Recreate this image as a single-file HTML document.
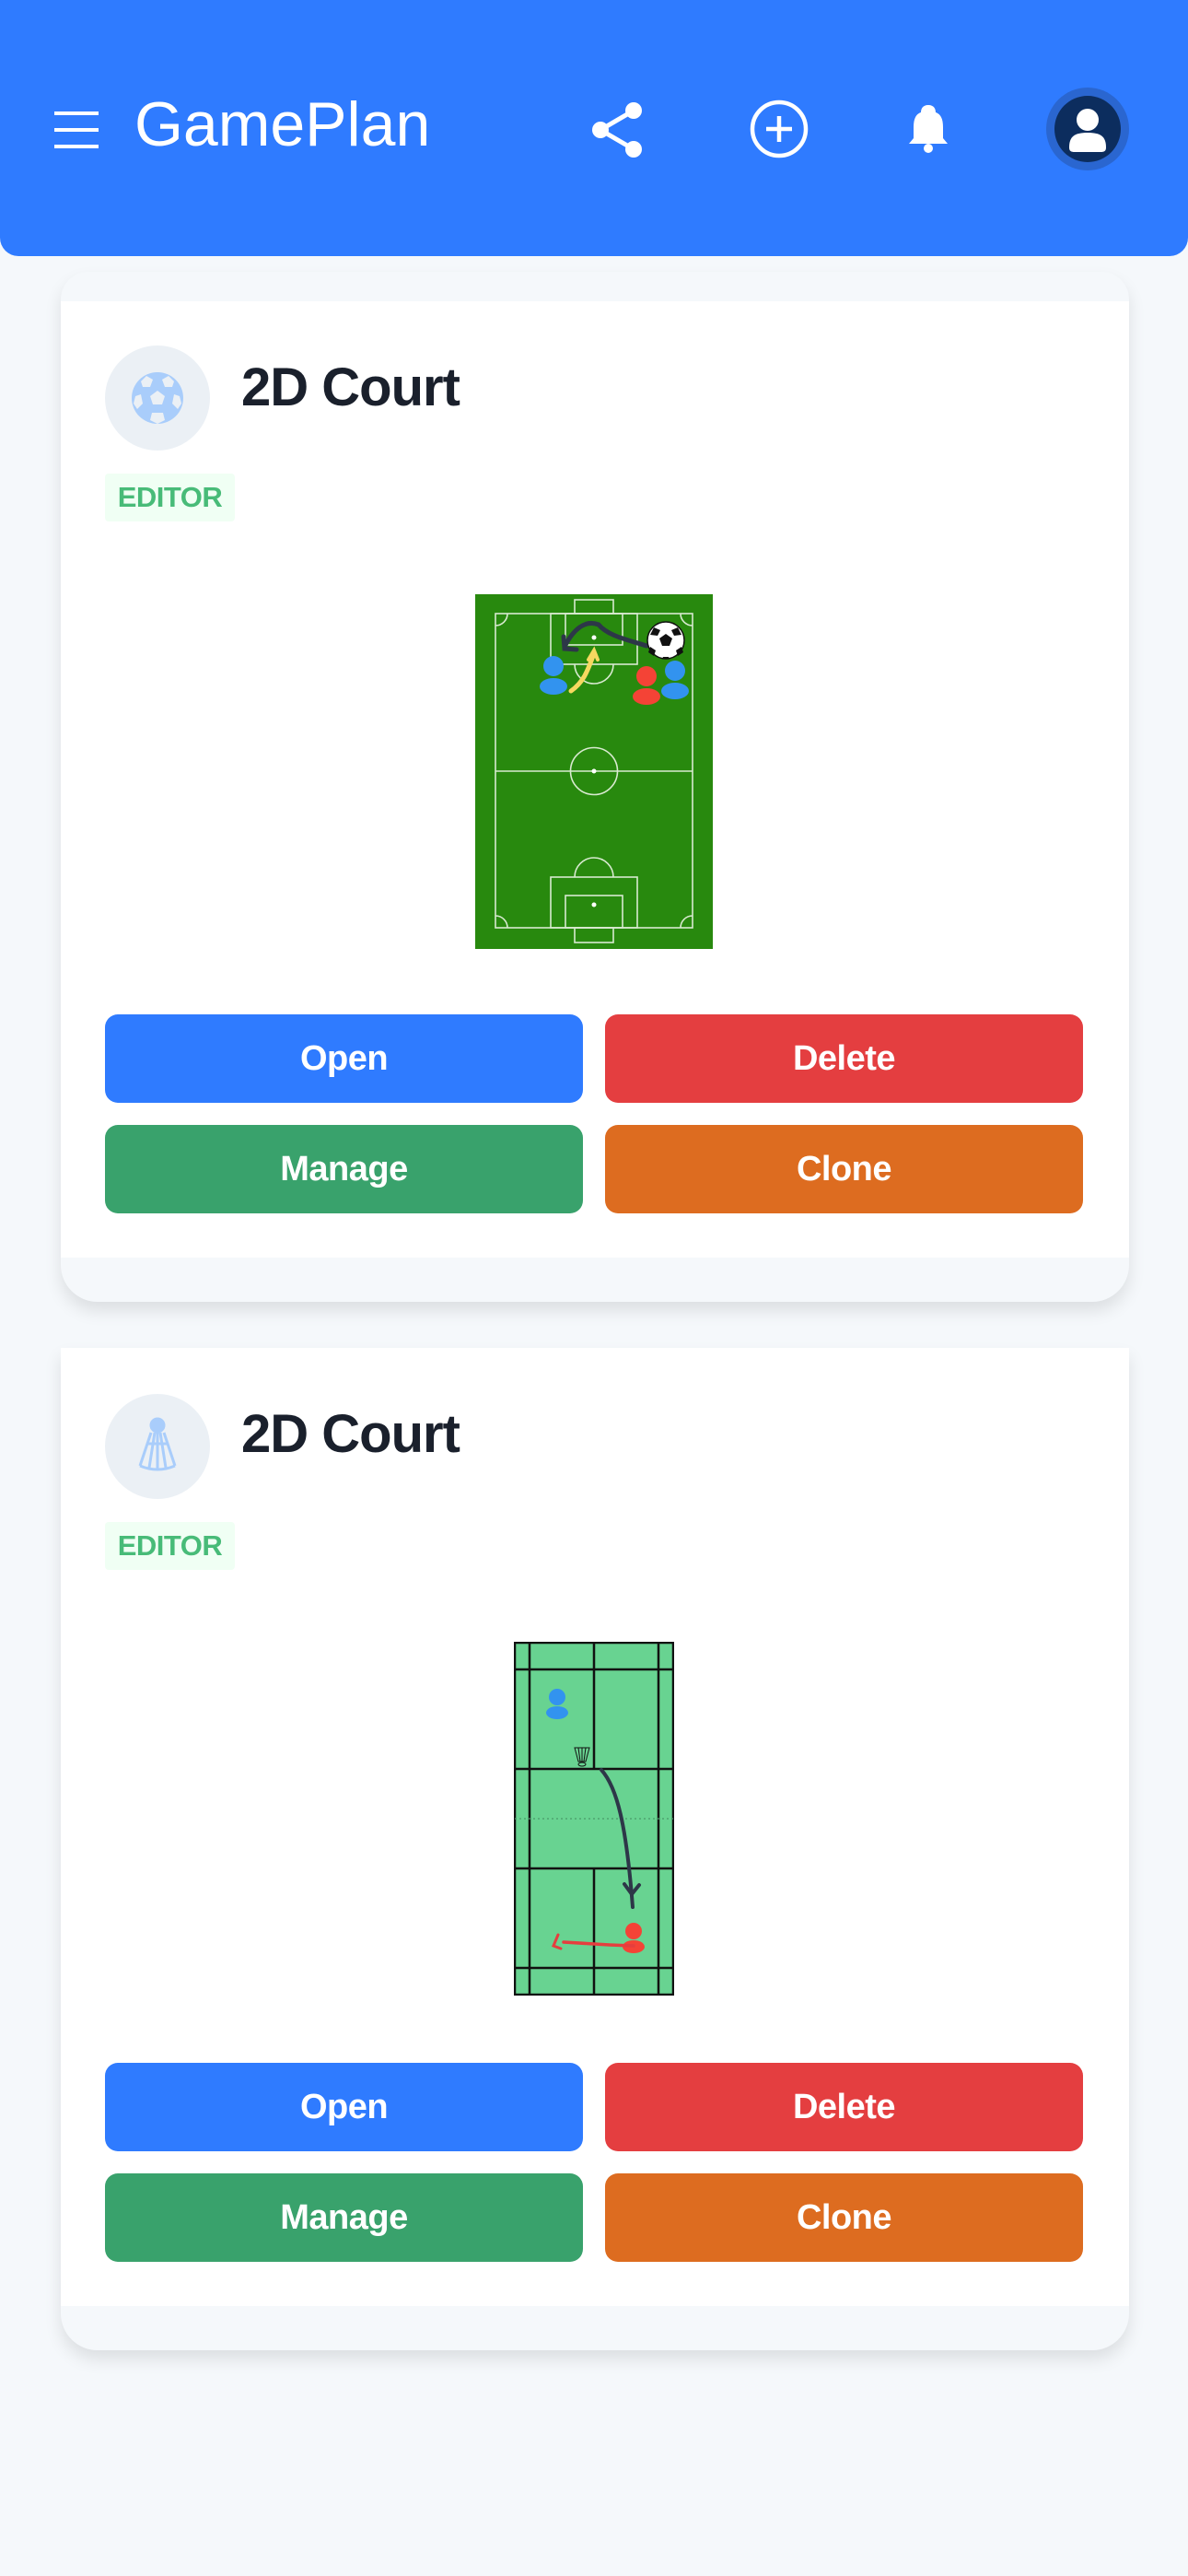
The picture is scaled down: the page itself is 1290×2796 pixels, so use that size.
<!DOCTYPE html>
<html><head><meta charset="utf-8"><style>
*{margin:0;padding:0;box-sizing:border-box}
body{width:1290px;height:2796px;background:#f5f8fb;font-family:"Liberation Sans",sans-serif;position:relative;overflow:hidden}
.abs{position:absolute}
.header{left:0;top:0;width:1290px;height:278px;background:#2f7bff;border-radius:0 0 20px 20px}
.card{left:66px;width:1160px;background:#f5f8fb;border-radius:0 0 40px 40px;box-shadow:0 10px 18px rgba(0,0,0,0.10)}
.white{left:0;width:1160px;background:#fff}
.icon{width:114px;height:114px;border-radius:50%;background:#ebf0f5;left:48px}
.title{left:196px;font-weight:bold;font-size:58px;color:#1a202c;letter-spacing:-1px}
.badge{left:48px;width:141px;height:52px;background:#f0fff4;border-radius:4px;color:#48bb78;font-weight:bold;font-size:31px;line-height:52px;text-align:center;letter-spacing:-0.5px}
.btn{width:519px;height:96px;border-radius:14px;color:#fff;font-weight:bold;font-size:38px;line-height:96px;text-align:center;letter-spacing:-0.5px}
</style></head><body>
<div class="abs header">
  <svg class="abs" style="left:59px;top:121px" width="48" height="40"><rect y="0" width="48" height="4" fill="#fff"/><rect y="18" width="48" height="4" fill="#fff"/><rect y="36" width="48" height="4" fill="#fff"/></svg>
  <div class="abs" style="left:146px;top:96px;font-size:68px;color:#fff;letter-spacing:0px">GamePlan</div>
  <svg class="abs" style="left:638px;top:108px" width="66" height="66"><line x1="14" y1="33" x2="50" y2="12" stroke="#fff" stroke-width="5"/><line x1="14" y1="33" x2="50" y2="54" stroke="#fff" stroke-width="5"/><circle cx="14" cy="33" r="9" fill="#fff"/><circle cx="50" cy="12" r="9" fill="#fff"/><circle cx="50" cy="54" r="9" fill="#fff"/></svg>
  <svg class="abs" style="left:812px;top:106px" width="68" height="68"><circle cx="34" cy="34" r="29" fill="none" stroke="#fff" stroke-width="4.5"/><line x1="34" y1="20" x2="34" y2="48" stroke="#fff" stroke-width="4.5"/><line x1="20" y1="34" x2="48" y2="34" stroke="#fff" stroke-width="4.5"/></svg>
  <svg class="abs" style="left:984px;top:112px" width="48" height="56"><path d="M24 2 C30 2 32 6 32 10 C38 12 40 18 40 26 L40 38 L45 44 L3 44 L8 38 L8 26 C8 18 10 12 16 10 C16 6 18 2 24 2Z" fill="#fff"/><circle cx="24" cy="49" r="5" fill="#fff"/></svg>
  <div class="abs" style="left:1136px;top:95px;width:90px;height:90px;border-radius:50%;background:#2a66d0">
    <svg class="abs" style="left:7px;top:7px" width="76" height="76"><circle cx="38" cy="38" r="36" fill="#0c2d5e"/><circle cx="38" cy="28" r="12" fill="#fff"/><path d="M18 58 C18 46 24 42 38 42 C52 42 58 46 58 58 C58 62 56 63 52 63 L24 63 C20 63 18 62 18 58Z" fill="#fff"/></svg>
  </div>
</div>

<!-- Card 1 -->
<div class="abs card" style="top:295px;height:1118px;border-radius:30px 30px 40px 40px">
  <div class="abs white" style="top:32px;height:1038px">
    <div class="abs icon" style="top:48px">
      <svg class="abs" style="left:27px;top:27px" width="60" height="60"><circle cx="30" cy="30" r="28" fill="#a9cdfb"/><polygon points="30,22 38,28 35,37 25,37 22,28" fill="#ebf0f5"/><polygon points="18,6 25,10 22,18 14,18 12,12" fill="#ebf0f5"/><polygon points="42,6 48,12 46,18 38,18 35,10" fill="#ebf0f5"/><polygon points="6,28 12,26 14,36 8,42 4,36" fill="#ebf0f5"/><polygon points="54,28 56,36 52,42 46,36 48,26" fill="#ebf0f5"/><polygon points="24,46 36,46 38,54 30,58 22,54" fill="#ebf0f5"/></svg>
    </div>
    <div class="abs title" style="top:60px">2D Court</div>
    <div class="abs badge" style="top:187px">EDITOR</div>
    <svg class="abs" style="left:450px;top:318px" width="258" height="385" viewBox="516 645 258 385">
      <rect x="516" y="645" width="258" height="385" fill="#28890e"/>
      <g fill="none" stroke="#d8ead0" stroke-width="1.6">
        <rect x="538" y="666" width="214" height="341"/>
        <line x1="538" y1="837" x2="752" y2="837"/>
        <circle cx="645" cy="837" r="25.5"/>
        <rect x="598" y="666" width="94" height="55"/>
        <rect x="614" y="666" width="62" height="34"/>
        <rect x="624" y="651" width="42" height="15"/>
        <path d="M624 721 A21 21 0 0 0 666 721"/>
        <rect x="598" y="952" width="94" height="55"/>
        <rect x="614" y="972" width="62" height="35"/>
        <rect x="624" y="1007" width="42" height="16"/>
        <path d="M624 952 A21 21 0 0 1 666 952"/>
        <path d="M538 679 A13 13 0 0 0 551 666"/><path d="M739 666 A13 13 0 0 0 752 679"/>
        <path d="M538 994 A13 13 0 0 1 551 1007"/><path d="M739 1007 A13 13 0 0 1 752 994"/>
      </g>
      <circle cx="645" cy="837" r="2.5" fill="#fff"/><circle cx="645" cy="692" r="2.5" fill="#fff"/><circle cx="645" cy="982" r="2.5" fill="#fff"/>
      <path d="M702 701 C680 694 660 690 650 678 C635 672 622 684 613 702" fill="none" stroke="#2d3748" stroke-width="5" stroke-linecap="round"/>
      <path d="M612 691 L613 704 L626 705" fill="none" stroke="#2d3748" stroke-width="5" stroke-linecap="round"/>
      <path d="M620 750 C634 740 638 728 644 712" fill="none" stroke="#f6d860" stroke-width="5" stroke-linecap="round"/>
      <path d="M639 716 L645 706 L649 716" fill="none" stroke="#f6d860" stroke-width="4" stroke-linecap="round"/>
      <circle cx="723" cy="695" r="20" fill="#fff" stroke="#111" stroke-width="1.5"/>
      <polygon points="723,688 730,693 727,701 719,701 716,693" fill="#111"/>
      <path d="M710 681 L717 684 L714 690 L706 689Z M736 681 L740 689 L732 690 L729 684Z M706 702 L712 706 L710 712 L704 708Z M740 702 L742 708 L736 712 L734 706Z M720 713 L726 713 L727 715 L719 715Z" fill="#111"/>
      <g fill="#3293ef"><circle cx="601" cy="723" r="11"/><ellipse cx="601" cy="745" rx="15" ry="9"/><circle cx="733" cy="728" r="11"/><ellipse cx="733" cy="750" rx="15" ry="9"/></g>
      <g fill="#f44336"><circle cx="702" cy="734" r="11"/><ellipse cx="702" cy="756" rx="15" ry="9"/></g>
    </svg>
    <div class="abs btn" style="left:48px;top:774px;background:#2f7bff">Open</div>
    <div class="abs btn" style="left:591px;top:774px;background:#e43e40">Delete</div>
    <div class="abs btn" style="left:48px;top:894px;background:#39a26c">Manage</div>
    <div class="abs btn" style="left:591px;top:894px;background:#dd6c20">Clone</div>
  </div>
</div>

<!-- Card 2 -->
<div class="abs card" style="top:1463px;height:1088px">
  <div class="abs white" style="top:0;height:1040px">
    <div class="abs icon" style="top:50px">
      <svg class="abs" style="left:30px;top:24px" width="54" height="66"><g fill="none" stroke="#a9cdfb" stroke-width="3"><ellipse cx="27" cy="10" rx="7" ry="7" fill="#a9cdfb"/><path d="M20 18 L8 54 M24 18 L18 56 M27 18 L27 57 M30 18 L36 56 M34 18 L46 54"/><path d="M8 54 Q27 62 46 54"/><line x1="16" y1="30" x2="38" y2="30"/></g></svg>
    </div>
    <div class="abs title" style="top:60px">2D Court</div>
    <div class="abs badge" style="top:189px">EDITOR</div>
    <svg class="abs" style="left:492px;top:319px" width="174" height="384" viewBox="558 1782 174 384">
      <rect x="559" y="1783" width="172" height="382" fill="#68d391" stroke="#111" stroke-width="2.5"/>
      <g stroke="#111" stroke-width="2.5">
        <line x1="575" y1="1783" x2="575" y2="2165"/><line x1="715" y1="1783" x2="715" y2="2165"/>
        <line x1="645" y1="1783" x2="645" y2="1920"/><line x1="645" y1="2028" x2="645" y2="2165"/>
        <line x1="559" y1="1812" x2="731" y2="1812"/><line x1="559" y1="1920" x2="731" y2="1920"/>
        <line x1="559" y1="2028" x2="731" y2="2028"/><line x1="559" y1="2136" x2="731" y2="2136"/>
      </g>
      <line x1="559" y1="1974" x2="731" y2="1974" stroke="#4a9a6a" stroke-width="1.2" stroke-dasharray="2 3"/>
      <g fill="#3293ef"><circle cx="605" cy="1842" r="9"/><ellipse cx="605" cy="1859" rx="12" ry="7"/></g>
      <g fill="none" stroke="#111" stroke-width="1"><path d="M624 1897 L640 1897 L636 1912 L628 1912Z"/><path d="M628 1897 L630 1912 M632 1897 L632 1912 M636 1897 L634 1912"/><ellipse cx="632" cy="1915" rx="4" ry="2"/></g>
      <path d="M653 1921 C670 1940 680 1980 687 2070" fill="none" stroke="#2d3748" stroke-width="4" stroke-linecap="round"/>
      <path d="M678 2045 L686 2056 L694 2046" fill="none" stroke="#2d3748" stroke-width="4" stroke-linecap="round"/>
      <g fill="#f44336"><circle cx="688" cy="2096" r="9"/><ellipse cx="688" cy="2113" rx="12" ry="7"/></g>
      <path d="M688 2112 L662 2111 L612 2108" fill="none" stroke="#e53e3e" stroke-width="3.5" stroke-linecap="round"/>
      <path d="M606 2100 L601 2112 L609 2115" fill="none" stroke="#e53e3e" stroke-width="3" stroke-linecap="round"/>
    </svg>
    <div class="abs btn" style="left:48px;top:776px;background:#2f7bff">Open</div>
    <div class="abs btn" style="left:591px;top:776px;background:#e43e40">Delete</div>
    <div class="abs btn" style="left:48px;top:896px;background:#39a26c">Manage</div>
    <div class="abs btn" style="left:591px;top:896px;background:#dd6c20">Clone</div>
  </div>
</div>
</body></html>
